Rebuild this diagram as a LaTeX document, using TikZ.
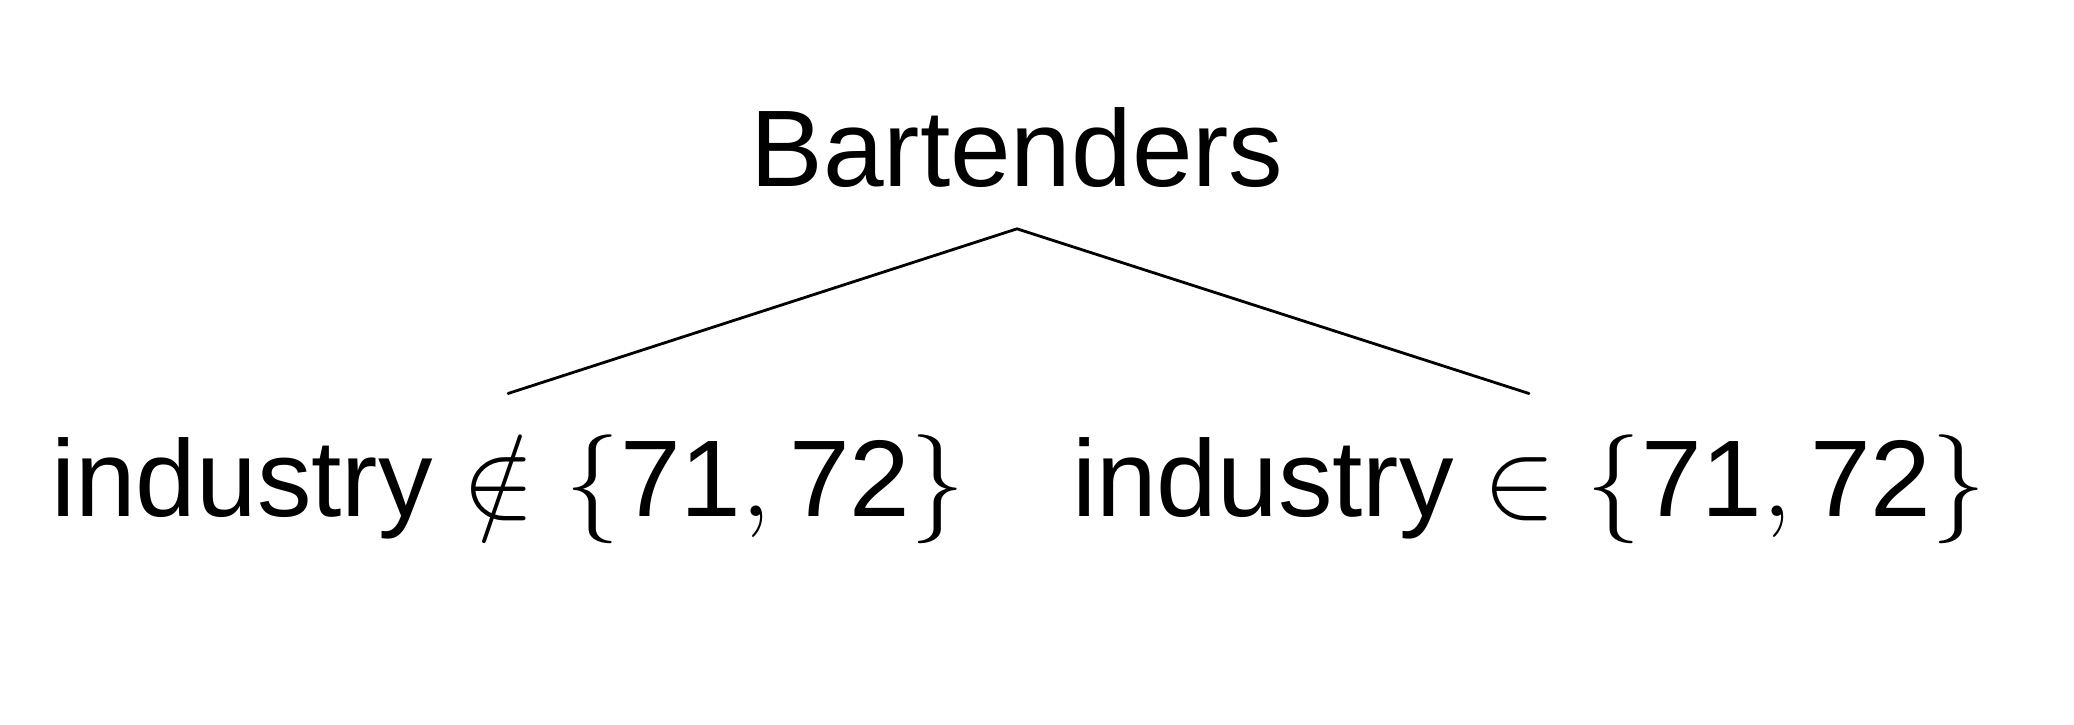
\RequirePackage{fix-cm}
\documentclass[tikz,border=0pt]{standalone}
\usepackage{amsmath}
\usepackage{fontspec}
\setmainfont{Liberation Sans}
\usepackage{tikz}
\tikzset{lbl/.style={font=\fontsize{31}{36}\selectfont,inner sep=11.4pt}}

\begin{document}
\begin{tikzpicture}[line cap=round,line join=round,x=1.0cm,y=1.0cm]
\useasboundingbox (0,0) rectangle (20.74,7.24);

\node[lbl,anchor=base] (root) at (10.17,5.37) {Bartenders};
\node[lbl,anchor=base] (lft) at (5.08,2.08) {$\text{industry} \notin \{\text{71}, \text{72}\}$};
\node[lbl,anchor=base] (rgt) at (15.29,2.08) {$\text{industry} \in \{\text{71}, \text{72}\}$};

\draw [line width=0.8pt] (lft.north) -- (root.south) -- (rgt.north);

\end{tikzpicture}
\end{document}
